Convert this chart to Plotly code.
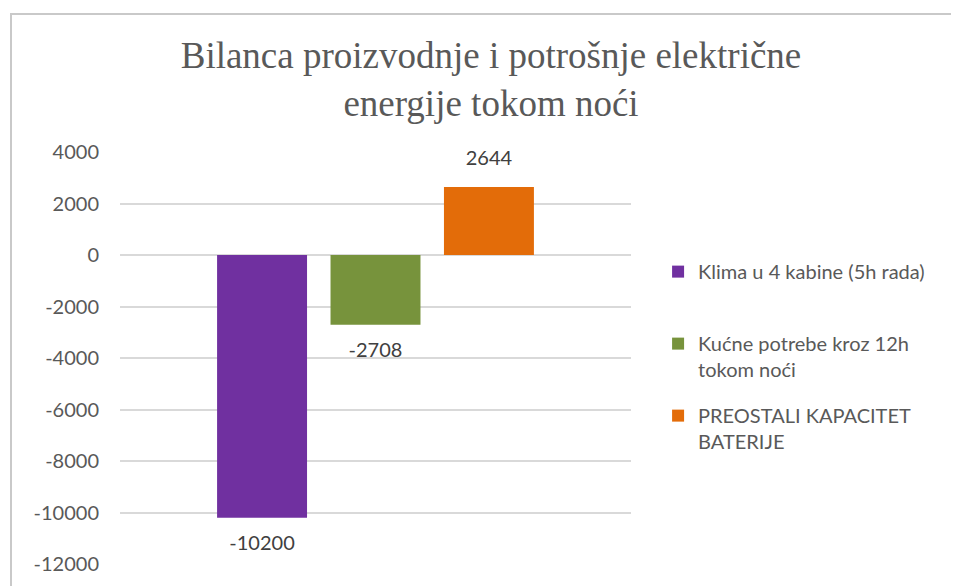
import plotly.graph_objects as go

categories = ["Bilanca"]
series_names = [
    "Klima u 4 kabine (5h rada)<br> ",
    "Kućne potrebe kroz 12h<br>tokom noći",
    "PREOSTALI KAPACITET<br>BATERIJE",
]
series_values = [-10200, -2708, 2644]
series_colors = ["#7030A0", "#77933C", "#E36C09"]
tick_values = [4000, 2000, 0, -2000, -4000, -6000, -8000, -10000, -12000]
tick_labels = [str(v) for v in tick_values]

FONT = "Lato"
OFF = 8  # page body margin

fig = go.Figure()
for i, (name, val, col) in enumerate(zip(series_names, series_values, series_colors)):
    fig.add_trace(go.Bar(
        x=categories, y=[val], name=name,
        marker=dict(color=col, line=dict(width=0)),
        legendgroup=f"g{i}", offsetgroup=f"o{i}",
    ))
for i, val in enumerate(series_values):
    fig.add_trace(go.Scatter(
        x=categories, y=[val], text=[str(val)], mode="markers+text",
        marker=dict(size=26, opacity=0),
        textposition="top center" if val >= 0 else "bottom center",
        textfont=dict(family=FONT, size=20, color="#404040"),
        cliponaxis=False, showlegend=False, hoverinfo="skip",
        legendgroup=f"g{i}", offsetgroup=f"o{i}",
    ))

fig.update_layout(
    width=959, height=586,
    margin=dict(l=120 - OFF, r=959 - 631 + OFF, t=152 - OFF, b=586 - 564 + OFF),
    paper_bgcolor="white", plot_bgcolor="white",
    barmode="group", bargap=0.334, bargroupgap=0.207,
    scattermode="group", scattergap=0.334,
    title=dict(
        text="Bilanca proizvodnje i potrošnje električne<br>energije tokom noći",
        font=dict(family="Liberation Serif", size=37, color="#595959"),
        x=(491 - OFF) / 959, xref="container", xanchor="center",
        y=1 - (68 - OFF) / 586, yref="container", yanchor="middle",
    ),
    xaxis=dict(showticklabels=False, showgrid=False, zeroline=False, showline=False),
    yaxis=dict(
        range=[-12000, 4000], tickvals=tick_values, ticktext=tick_labels,
        showgrid=True, gridcolor="#D9D9D9", gridwidth=1.5,
        zeroline=True, zerolinecolor="#D9D9D9", zerolinewidth=1.5,
        showline=False, ticks="", ticklabelstandoff=20,
        tickfont=dict(family=FONT, size=20, color="#595959"),
    ),
    legend=dict(
        x=1.053, xanchor="left", y=0.757, yanchor="top",
        font=dict(family=FONT, size=20, color="#595959"),
        tracegroupgap=17, valign="top", traceorder="grouped",
        bgcolor="rgba(0,0,0,0)",
    ),
    showlegend=True,
    shapes=[dict(
        type="rect", xref="paper", yref="paper",
        x0=-0.2133, x1=1.66, y0=-0.3, y1=1.335,
        line=dict(color="#C9C9C9", width=2), fillcolor="rgba(0,0,0,0)", layer="below",
    )],
)

fig.write_html("out.html")
